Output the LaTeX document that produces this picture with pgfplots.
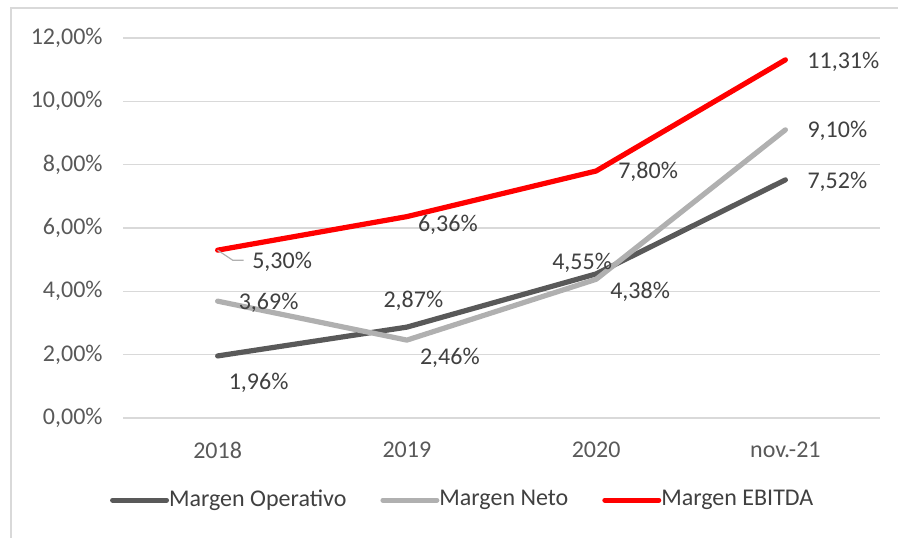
\documentclass[border=0pt]{standalone}
\usepackage{fontspec}
\setmainfont{Carlito}
\usepackage{pgfplots}
\pgfplotsset{compat=1.18}
\definecolor{opcol}{HTML}{595959}
\definecolor{netcol}{HTML}{B0B0B0}
\definecolor{ebcol}{HTML}{FF0000}
\definecolor{gridc}{HTML}{D9D9D9}
\definecolor{txt}{HTML}{404040}
\definecolor{tick}{HTML}{595959}

\begin{document}
\begin{tikzpicture}
\fontsize{12pt}{14pt}\selectfont
% frame of the chart area (left and top edges visible)
\draw[gridc, line width=0.75pt] (5.5pt,-10pt) -- (5.5pt,264.5pt) -- (460pt,264.5pt);
\begin{axis}[
    at={(61.5pt,59.5pt)}, anchor=south west,
    width=378.5pt, height=190pt, scale only axis,
    xmin=-0.5, xmax=3.5, ymin=0, ymax=12,
    xtick={0,1,2,3},
    xticklabels={2018,2019,2020,nov.-21},
    ytick={0,2,4,6,8,10,12},
    yticklabels={{0,00\%},{2,00\%},{4,00\%},{6,00\%},{8,00\%},{10,00\%},{12,00\%}},
    axis line style={draw=none},
    major tick length=0pt,
    ymajorgrids,
    grid style={gridc, line width=0.75pt},
    ticklabel style={font=\fontsize{12pt}{14pt}\selectfont, text=tick},
    xticklabel style={yshift=-8pt},
    yticklabel style={xshift=-6pt},
    legend columns=3,
    legend style={at={(0.450,-0.216)}, anchor=center, draw=none, fill=none,
        font=\fontsize{12pt}{14pt}\selectfont, text=txt,
        /tikz/every even column/.append style={column sep=15pt},
        /tikz/every odd column/.append style={column sep=-2pt},
        inner sep=0pt},
    legend image code/.code={\draw[#1, line width=2.5pt, line cap=round] (0pt,0pt) -- (27pt,0pt);},
    clip=false,
]
\addplot[opcol, line width=2.6pt, line cap=round, line join=round] coordinates {(0,1.96) (1,2.87) (2,4.55) (3,7.52)};
\addlegendentry{Margen Operativo}
\addplot[netcol, line width=2.6pt, line cap=round, line join=round] coordinates {(0,3.69) (1,2.46) (2,4.38) (3,9.10)};
\addlegendentry{Margen Neto}
\addplot[ebcol, line width=2.6pt, line cap=round, line join=round] coordinates {(0,5.30) (1,6.36) (2,7.80) (3,11.31)};
\addlegendentry{Margen EBITDA}

% data labels
\begin{scope}[every node/.style={text=txt, font=\fontsize{12pt}{14pt}\selectfont, inner sep=0pt}]
\draw[netcol, line width=0.6pt] (axis cs:0,5.30) -- ++(7.5pt,-5pt) -- ++(5.5pt,0pt);
\node at (axis cs:0,5.30) [xshift=32.25pt, yshift=-6pt] {5,30\%};
\node at (axis cs:1,6.36) [xshift=20.5pt, yshift=-4pt] {6,36\%};
\node at (axis cs:2,7.80) [xshift=26pt, yshift=-0.5pt] {7,80\%};
\node at (axis cs:3,11.31) [xshift=29pt, yshift=-1pt] {11,31\%};
\node at (axis cs:0,3.69) [xshift=25.5pt, yshift=-1pt] {3,69\%};
\node at (axis cs:1,2.46) [xshift=21.5pt, yshift=-9pt] {2,46\%};
\node at (axis cs:2,4.38) [xshift=22pt, yshift=-6.5pt] {4,38\%};
\node at (axis cs:3,9.10) [xshift=26pt, yshift=-0.5pt] {9,10\%};
\node at (axis cs:0,1.96) [xshift=20.5pt, yshift=-13.5pt] {1,96\%};
\node at (axis cs:1,2.87) [xshift=3.25pt, yshift=13pt] {2,87\%};
\node at (axis cs:2,4.55) [xshift=-7pt, yshift=5.5pt] {4,55\%};
\node at (axis cs:3,7.52) [xshift=26pt, yshift=-1pt] {7,52\%};
\end{scope}
\end{axis}
\pgfresetboundingbox
\useasboundingbox (0pt,0pt) rectangle (449pt,268.5pt);
\end{tikzpicture}
\end{document}
